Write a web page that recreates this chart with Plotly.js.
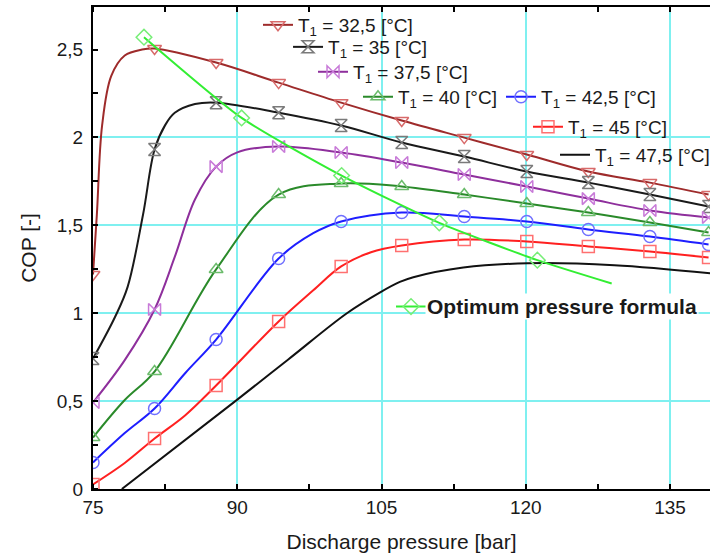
<!DOCTYPE html>
<html><head><meta charset="utf-8">
<script src="https://cdn.plot.ly/plotly-3.0.1.min.js"></script>
<style>html,body{margin:0;padding:0;background:#fff}#chart{width:710px;height:556px}</style>
</head><body><div id="chart"></div>
<script>
// marker pressures [bar]
const P = [75, 81.4, 87.8, 94.3, 100.8, 107.1, 113.6, 120.1, 126.5, 132.9, 139.0];

// COP at marker pressures
const cop325 = [1.220, 2.506, 2.426, 2.312, 2.198, 2.096, 1.999, 1.903, 1.806, 1.743, 1.675];
const cop35  = [0.742, 1.931, 2.198, 2.141, 2.068, 1.971, 1.891, 1.806, 1.743, 1.675, 1.607];
const cop375 = [0.492, 1.021, 1.834, 1.948, 1.914, 1.857, 1.789, 1.721, 1.652, 1.584, 1.544];
const cop40  = [0.293, 0.668, 1.249, 1.675, 1.738, 1.721, 1.675, 1.624, 1.573, 1.516, 1.459];
const cop425 = [0.151, 0.458, 0.850, 1.311, 1.522, 1.573, 1.550, 1.522, 1.476, 1.436, 1.391];
const cop45  = [0.026, 0.287, 0.589, 0.953, 1.266, 1.385, 1.419, 1.408, 1.380, 1.351, 1.317];

// extra points read along the curves between markers
const ex325X = [75.4, 75.95, 76.9, 78.3, 80.1];
const ex325Y = [1.56, 2.07, 2.35, 2.466, 2.50];
const ex35X  = [77.3, 78.6, 80.2, 82.5, 83.5, 85.6];
const ex35Y  = [0.98, 1.15, 1.56, 2.07, 2.14, 2.19];
const ex375X = [78.3, 83.5, 85.6, 90.0];
const ex375Y = [0.733, 1.32, 1.647, 1.915];
const ex40X  = [78.3];
const ex40Y  = [0.506];
const ex425X = [78.3, 84.6, 97.9];
const ex425Y = [0.318, 0.66, 1.455];
const ex45X  = [78.3, 84.6, 97.9, 103.9];
const ex45Y  = [0.148, 0.42, 1.13, 1.347];

// T1 = 47,5 curve (no markers)
const t475X = [78.0, 89.8, 95.3, 101.4, 104.9, 106.9, 108.3, 113.5, 120.2, 129.2, 139.2];
const t475Y = [0.0, 0.5, 0.737, 1.0, 1.12, 1.178, 1.205, 1.26, 1.284, 1.273, 1.227];

// optimum pressure formula (last point is the line end, no marker)
const optX = [80.3, 90.45, 100.85, 111.0, 121.2, 128.93];
const optY = [2.57, 2.111, 1.783, 1.514, 1.302, 1.169];

const names = ['T<sub>1</sub> = 32,5 [°C]', 'T<sub>1</sub> = 35 [°C]', 'T<sub>1</sub> = 37,5 [°C]',
  'T<sub>1</sub> = 40 [°C]', 'T<sub>1</sub> = 42,5 [°C]', 'T<sub>1</sub> = 45 [°C]',
  'T<sub>1</sub> = 47,5 [°C]', ''];
const optLabel = '<b>Optimum pressure formula</b>';

const xTicks = [75, 90, 105, 120, 135];
const yTicks = [0, 0.5, 1, 1.5, 2, 2.5];
const yGrid = [0.5, 1, 1.5, 2];

function merge(mx, my, ex, ey) {
  const pts = mx.map((x, i) => [x, my[i]]).concat(ex.map((x, i) => [x, ey[i]]));
  pts.sort((a, b) => a[0] - b[0]);
  return {x: pts.map(p => p[0]), y: pts.map(p => p[1])};
}

const styles = [
  {line: '#9e2b2b', mk: '#d86a6a', sym: 'triangle-down-open'},
  {line: '#1a1a1a', mk: '#7a7a7a', sym: 'hourglass-open'},
  {line: '#8e2f9c', mk: '#c87ad8', sym: 'bowtie-open'},
  {line: '#2a8a2a', mk: '#6cbc6c', sym: 'triangle-up-open'},
  {line: '#1e1eff', mk: '#7070ff', sym: 'circle-open'},
  {line: '#ff2020', mk: '#ff7070', sym: 'square-open'},
  {line: '#111111', mk: null, sym: null},
  {line: '#33ee33', mk: '#77ee77', sym: 'diamond-open'}
];

const series = [
  [cop325, ex325X, ex325Y], [cop35, ex35X, ex35Y], [cop375, ex375X, ex375Y],
  [cop40, ex40X, ex40Y], [cop425, ex425X, ex425Y], [cop45, ex45X, ex45Y]
];

const traces = [];
const LW = 2, MS = 12;
function mk(st) { return {symbol: st.sym, size: MS, color: st.mk, line: {width: 1.5, color: st.mk}}; }

series.forEach((s, i) => {
  const st = styles[i];
  const ln = merge(P, s[0], s[1], s[2]);
  traces.push({x: ln.x, y: ln.y, mode: 'lines', line: {color: st.line, width: LW, shape: 'spline', smoothing: 1}, showlegend: false, hoverinfo: 'skip'});
  traces.push({x: P, y: s[0], mode: 'markers', marker: mk(st), showlegend: false, hoverinfo: 'skip'});
});
traces.push({x: t475X, y: t475Y, mode: 'lines', line: {color: styles[6].line, width: LW, shape: 'spline', smoothing: 1}, showlegend: false, hoverinfo: 'skip'});
traces.push({x: optX, y: optY, mode: 'lines', line: {color: styles[7].line, width: LW, shape: 'spline', smoothing: 0.6}, showlegend: false, hoverinfo: 'skip'});
traces.push({x: optX.slice(0, 5), y: optY.slice(0, 5), mode: 'markers', marker: mk(styles[7]), showlegend: false, hoverinfo: 'skip'});

// legend entries
const legPos = [
  [0.2674, 0.9627], [0.3161, 0.917], [0.3566, 0.8653], [0.4295, 0.8135],
  [0.6613, 0.8135], [0.7050, 0.7513], [0.7488, 0.6933], [0.4830, 0.3782]
];
names.forEach((n, i) => {
  const st = styles[i];
  const t = {x: [null], y: [null], name: n, legend: i === 0 ? 'legend' : 'legend' + (i + 1),
    mode: st.sym ? 'lines+markers' : 'lines', line: {color: st.line, width: LW}, hoverinfo: 'skip'};
  if (st.sym) t.marker = mk(st);
  traces.push(t);
});

const FONT = 'Liberation Sans, Arial, sans-serif';
const GRID = '#7ff0f0';
const layout = {
  width: 710, height: 556,
  margin: {l: 93, r: 0, t: 7, b: 67, autoexpand: false},
  paper_bgcolor: '#fff', plot_bgcolor: '#fff',
  font: {family: FONT, size: 19, color: '#1a1a1a'},
  separators: ', ',
  showlegend: true,
  xaxis: {
    range: [75, 139.15], tickvals: xTicks, ticks: '', showgrid: true, gridcolor: GRID, gridwidth: 2,
    zeroline: false, showline: true, linecolor: '#000', linewidth: 2, mirror: 'allticks',
    minor: {dtick: 7.5, tick0: 75, ticks: 'inside', ticklen: 5, tickwidth: 2, tickcolor: '#000', showgrid: false},
    tickfont: {size: 19, color: '#1a1a1a'},
    title: {text: 'Discharge pressure [bar]', font: {size: 21, color: '#1a1a1a'}, standoff: 18}
  },
  yaxis: {
    range: [0, 2.742], tickvals: yTicks, ticks: '', showgrid: false, zeroline: false,
    showline: true, linecolor: '#000', linewidth: 2,
    minor: {dtick: 0.25, tick0: 0, ticks: 'inside', ticklen: 5, tickwidth: 2, tickcolor: '#000', showgrid: false},
    tickfont: {size: 19, color: '#1a1a1a'}, ticklabelstandoff: 4,
    title: {text: 'COP [-]', font: {size: 21, color: '#1a1a1a'}, standoff: 14}
  },
  yaxis2: {
    overlaying: 'y', range: [0, 2.742], tickvals: yGrid, showticklabels: false, ticks: '',
    showgrid: true, gridcolor: GRID, gridwidth: 2, zeroline: false, showline: false, side: 'left'
  },
  annotations: [{
    xref: 'paper', yref: 'paper', x: 0.5385, y: 0.3782, xanchor: 'left', yanchor: 'middle',
    text: optLabel, showarrow: false, bgcolor: '#fff', borderpad: 1,
    font: {family: FONT, size: 21, color: '#1a1a1a'}
  }]
};
legPos.forEach((p, i) => {
  const key = i === 0 ? 'legend' : 'legend' + (i + 1);
  layout[key] = {x: p[0], y: p[1], xanchor: 'left', yanchor: 'middle',
    bgcolor: 'rgba(0,0,0,0)', borderwidth: 0,
    itemwidth: 30, font: {family: FONT, size: 19, color: '#1a1a1a'}, tracegroupgap: 0};
});
// helper so yaxis2 (grid only) is drawn
traces.push({x: [null], y: [null], yaxis: 'y2', mode: 'lines', showlegend: false, hoverinfo: 'skip'});

Plotly.newPlot('chart', traces, layout, {displayModeBar: false, staticPlot: true});
</script></body></html>
